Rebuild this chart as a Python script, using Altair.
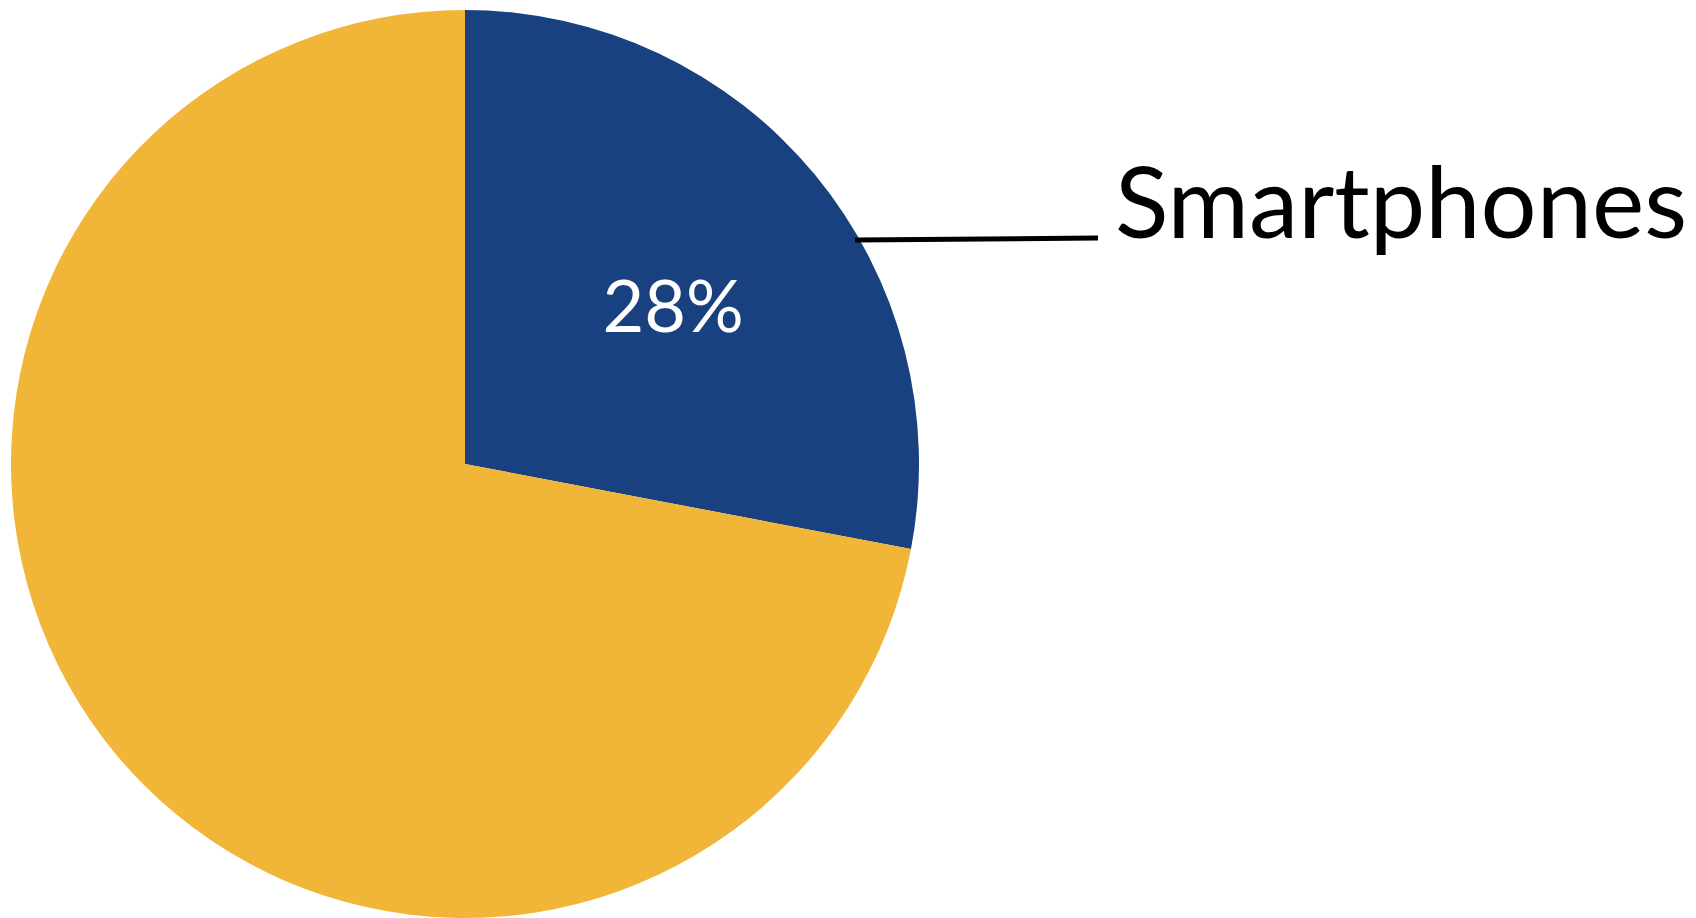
import altair as alt
import pandas as pd

categories = ["Smartphones", "Other"]
values = [28, 72]
labels = ["28%", ""]
order_idx = [0, 1]
colors = ["#19417F", "#F1B537"]

df = pd.DataFrame({"category": categories, "value": values, "label": labels, "idx": order_idx})

W, H = 1680, 902
CX, CY, R = 457, 456, 454

base = alt.Chart(df).encode(
    theta=alt.Theta("value:Q", stack=True),
    order=alt.Order("idx:Q"),
)

pie = base.mark_arc(radius=R, stroke=None).encode(
    x=alt.value(CX), y=alt.value(CY),
    color=alt.Color("category:N", scale=alt.Scale(domain=categories, range=colors), legend=None),
)

pct = base.mark_text(radius=261, dx=7, dy=12, font="Lato", fontSize=72, color="white",
                     baseline="middle", align="center").encode(
    x=alt.value(CX), y=alt.value(CY),
    text="label:N",
)

leader = alt.Chart(df).transform_filter(alt.datum.category == "Smartphones").mark_rule(
    color="black", strokeWidth=5
).encode(x=alt.value(847), x2=alt.value(1090), y=alt.value(232), y2=alt.value(230))

name = alt.Chart(df).transform_filter(alt.datum.category == "Smartphones").mark_text(
    font="Lato", fontSize=99, color="black", align="left", baseline="alphabetic"
).encode(x=alt.value(1107), y=alt.value(230), text="category:N")

chart = alt.layer(pie, pct, leader, name).properties(
    width=W, height=H, padding=0, background="white"
).configure_view(stroke=None)

chart.save("out.html", embed_options={"renderer": "svg", "actions": False})
